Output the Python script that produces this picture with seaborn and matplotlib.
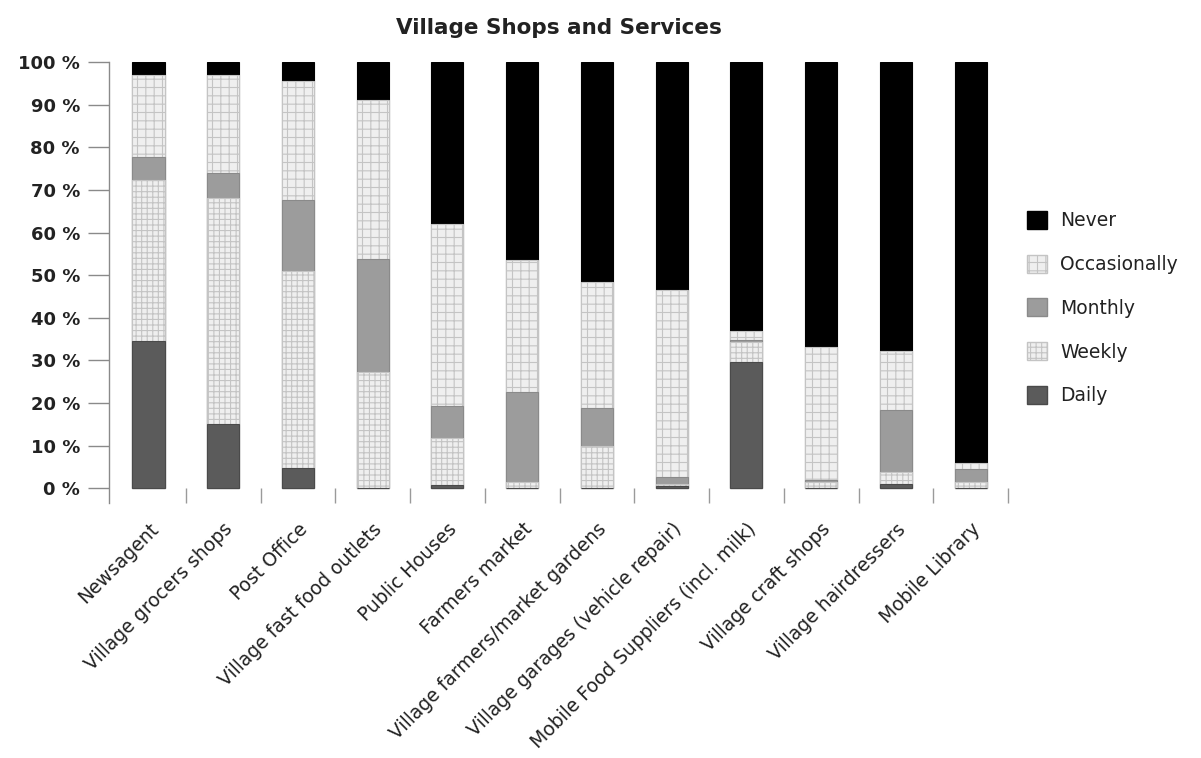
import pandas as pd
import seaborn as sns
import matplotlib.pyplot as plt
from matplotlib.patches import Patch

# Data (percent of respondents)
services = ["Newsagent", "Village grocers shops", "Post Office", "Village fast food outlets",
            "Public Houses", "Farmers market", "Village farmers/market gardens",
            "Village garages (vehicle repair)", "Mobile Food Suppliers (incl. milk)",
            "Village craft shops", "Village hairdressers", "Mobile Library"]
daily = [34.6, 15.0, 4.8, 0.0, 0.8, 0.0, 0.0, 0.5, 29.7, 0.0, 0.9, 0.0]
weekly = [37.7, 53.1, 46.2, 27.2, 10.9, 1.5, 9.9, 0.4, 4.7, 1.5, 2.9, 1.5]
monthly = [5.5, 5.9, 16.6, 26.7, 7.6, 21.1, 8.9, 1.6, 0.4, 0.5, 14.5, 3.0]
occasionally = [19.3, 23.1, 28.0, 37.2, 42.8, 30.9, 29.7, 44.1, 2.1, 31.1, 13.8, 1.3]
never = [2.9, 2.9, 4.4, 8.9, 37.9, 46.5, 51.5, 53.4, 63.1, 66.9, 67.9, 94.2]

levels = ["Daily", "Weekly", "Monthly", "Occasionally", "Never"]
yticks = [0, 10, 20, 30, 40, 50, 60, 70, 80, 90, 100]

# Look of each segment
styles = {
    "Daily": dict(color="#5b5b5b", edgecolor="#4a4a4a", hatch=None),
    "Weekly": dict(color="#efefef", edgecolor="#c4c4c4", hatch="+++"),
    "Monthly": dict(color="#9c9c9c", edgecolor="#8a8a8a", hatch=None),
    "Occasionally": dict(color="#efefef", edgecolor="#c4c4c4", hatch="++"),
    "Never": dict(color="#000000", edgecolor="#000000", hatch=None),
}

# Long table with the cumulative top of each segment
df = pd.DataFrame({"service": services, "Daily": daily, "Weekly": weekly,
                   "Monthly": monthly, "Occasionally": occasionally, "Never": never})
cum = df[levels].cumsum(axis=1)
long = cum.assign(service=df["service"]).melt(id_vars="service", var_name="level", value_name="top")

sns.set_style("white")
plt.rcParams["font.family"] = ["DejaVu Sans"]
plt.rcParams["hatch.linewidth"] = 0.8

fig = plt.figure(figsize=(12.01, 7.58), dpi=100)
ax = fig.add_axes([0.0908, 0.3364, 0.7485, 0.5816])

# Draw from the tallest cumulative layer down so each one covers the next
for lvl in reversed(levels):
    st = styles[lvl]
    sns.barplot(data=long[long["level"] == lvl], x="service", y="top", order=services,
                color=st["color"], edgecolor=st["edgecolor"], hatch=st["hatch"],
                saturation=1, width=0.43, linewidth=0.8, ax=ax)

ax.set_xlim(-0.527, 11.46)
ax.set_ylim(-3.5, 100)
ax.set_yticks(yticks)
ax.set_yticklabels([f"{v} %" for v in yticks], fontsize=13, fontweight="bold", color="#222222")
ax.tick_params(axis="y", direction="out", length=15, width=1, color="#8a8a8a", pad=6, left=True)

ax.set_xticks(range(len(services)))
ax.set_xticklabels(services, rotation=45, ha="right", rotation_mode="anchor",
                   fontsize=13.5, color="#222222")
ax.tick_params(axis="x", which="major", length=0, pad=12)
ax.set_xticks([i + 0.5 for i in range(len(services))], minor=True)
ax.tick_params(axis="x", which="minor", direction="in", length=11, width=1,
               color="#9a9a9a", bottom=True)

for s in ["top", "right", "bottom"]:
    ax.spines[s].set_visible(False)
ax.spines["left"].set_color("#8a8a8a")
ax.spines["left"].set_linewidth(1)
ax.set_xlabel("")
ax.set_ylabel("")

ax.set_title("Village Shops and Services", fontsize=15.5, fontweight="bold",
             color="#222222", pad=20)

handles = [Patch(facecolor=styles[l]["color"], edgecolor=styles[l]["edgecolor"],
                 hatch=styles[l]["hatch"], label=l) for l in reversed(levels)]
ax.legend(handles=handles, loc="center left", bbox_to_anchor=(1.002, 0.442), frameon=False,
          fontsize=13.5, handlelength=1.1, handleheight=1.1, labelspacing=1.3,
          handletextpad=0.7, labelcolor="#222222")

fig.savefig("out.png", dpi=100)
